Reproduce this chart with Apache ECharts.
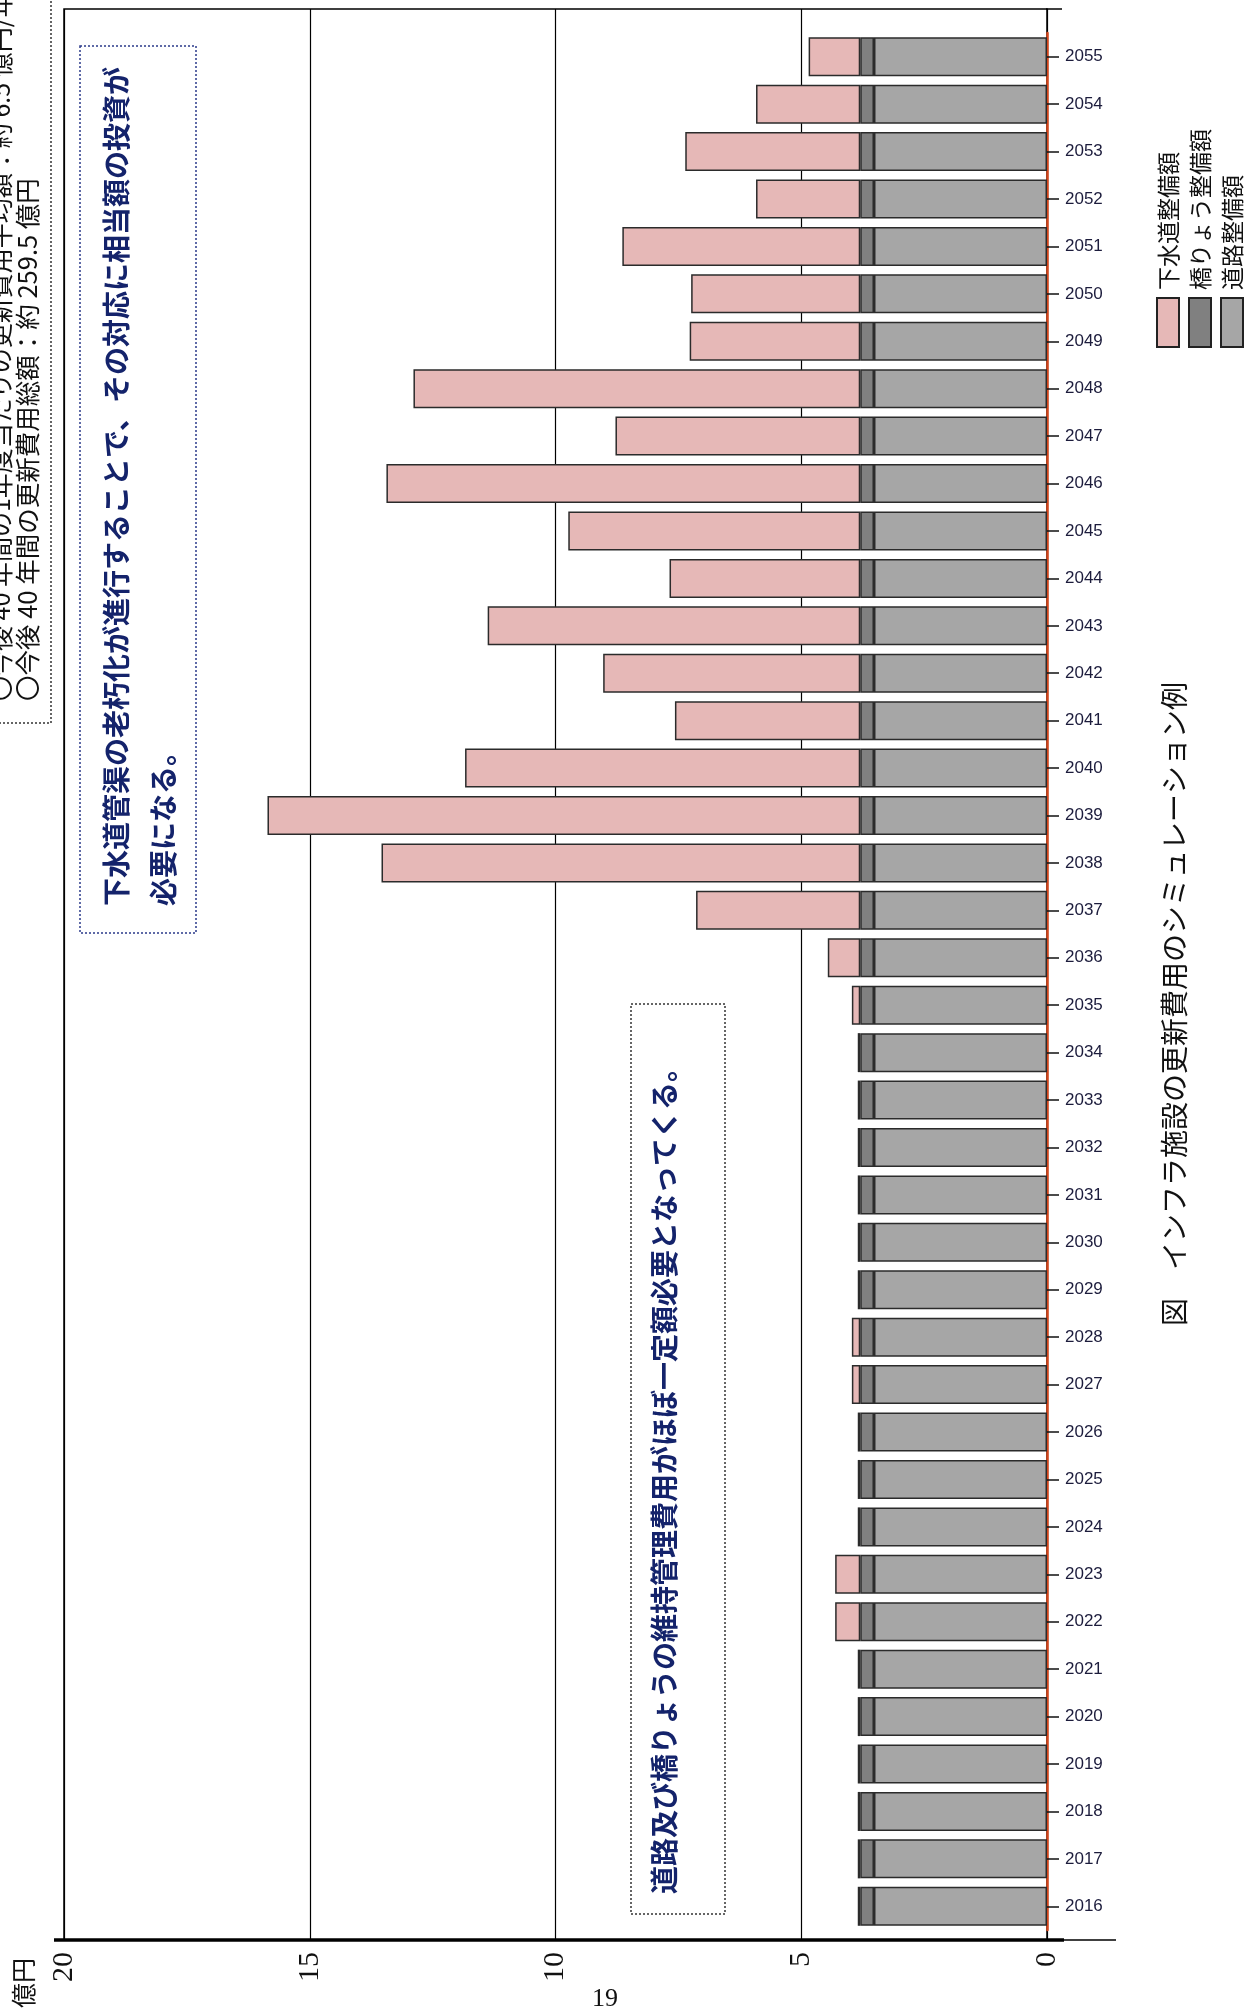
<!DOCTYPE html>
<html>
<head>
<meta charset="utf-8">
<script src="https://cdn.jsdelivr.net/npm/echarts@6/dist/echarts.min.js"></script>
<style>
html,body{margin:0;padding:0;background:#fff;}
#chart{width:1255px;height:2011px;}
</style>
</head>
<body>
<div id="chart"></div>
<script>
// ---- data ----
const years = ['2016','2017','2018','2019','2020','2021','2022','2023','2024','2025','2026','2027','2028','2029','2030','2031','2032','2033','2034','2035','2036','2037','2038','2039','2040','2041','2042','2043','2044','2045','2046','2047','2048','2049','2050','2051','2052','2053','2054','2055'];
const roadValues = [3.52,3.52,3.52,3.52,3.52,3.52,3.52,3.52,3.52,3.52,3.52,3.52,3.52,3.52,3.52,3.52,3.52,3.52,3.52,3.52,3.52,3.52,3.52,3.52,3.52,3.52,3.52,3.52,3.52,3.52,3.52,3.52,3.52,3.52,3.52,3.52,3.52,3.52,3.52,3.52];
const bridgeValues = [0.28,0.28,0.28,0.28,0.28,0.28,0.28,0.28,0.28,0.28,0.28,0.28,0.28,0.28,0.28,0.28,0.28,0.28,0.28,0.28,0.28,0.28,0.28,0.28,0.28,0.28,0.28,0.28,0.28,0.28,0.28,0.28,0.28,0.28,0.28,0.28,0.28,0.28,0.28,0.28];
const sewerValues = [0.05,0.05,0.05,0.05,0.05,0.05,0.51,0.51,0.05,0.05,0.05,0.17,0.17,0.05,0.05,0.05,0.05,0.05,0.05,0.17,0.66,3.34,9.74,12.06,8.04,3.77,5.23,7.58,3.88,5.94,9.64,4.98,9.09,3.47,3.44,4.84,2.12,3.56,2.12,1.05];
const valueTicks = [0,5,10,15,20];
const seriesNames = ['道路整備額','橋りょう整備額','下水道整備額'];
const unitLabel = '億円';
const titleText = '図　インフラ施設の更新費用のシミュレーション例';
const note1Lines = ['下水道管渠の老朽化が進行することで、その対応に相当額の投資が','必要になる。'];
const note2Text = '道路及び橋りょうの維持管理費用がほぼ一定額必要となってくる。';
const summaryLines = ['〇今後 40 年間の1年度当たりの更新費用平均額：約 6.5 億円/年','〇今後 40 年間の更新費用総額：約 259.5 億円'];
const pageNumber = '19';

const colors = ['#a6a6a6','#808080','#e6b8b7'];
const JP = '"Noto Sans CJK JP","Noto Sans CJK SC",sans-serif';
const R = Math.PI / 2;

const chart = echarts.init(document.getElementById('chart'), null, {renderer:'canvas'});

function vText(x, y, text, font, fill) {
  return {type:'text', x:x, y:y, rotation:R, z:100,
    style:{text:text, x:0, y:0, font:font, fill:fill||'#000', align:'left', verticalAlign:'middle'}};
}

const graphics = [];
// summary box (top-left, partly off page)
graphics.push({type:'rect', z:90, shape:{x:-10,y:-10,width:61,height:733},
  style:{fill:null, stroke:'#333', lineWidth:1.5, lineDash:[2,2]}});
graphics.push(vText(0, 701, summaryLines[0], '25px ' + JP, '#111'));
graphics.push(vText(27, 701, summaryLines[1], '25.5px ' + JP, '#111'));
// note box 1
graphics.push({type:'rect', z:90, shape:{x:80,y:46,width:116,height:887},
  style:{fill:'#fff', stroke:'#2b3a8a', lineWidth:1.5, lineDash:[2,2]}});
graphics.push(vText(116, 906, note1Lines[0], 'bold 28px ' + JP, '#14236b'));
graphics.push(vText(163, 906, note1Lines[1], 'bold 28px ' + JP, '#14236b'));
// note box 2
graphics.push({type:'rect', z:90, shape:{x:631,y:1004,width:94,height:910},
  style:{fill:'#fff', stroke:'#333', lineWidth:1.5, lineDash:[2,2]}});
graphics.push(vText(664, 1894, note2Text, 'bold 28px ' + JP, '#14236b'));
// title
graphics.push(vText(1174, 1326, titleText, '28px ' + JP, '#111'));
// legend
const legendCols = [1168, 1200, 1232];
const legendOrder = [2, 1, 0];
legendOrder.forEach(function(si, i) {
  graphics.push({type:'rect', z:90, shape:{x:legendCols[i]-11, y:298, width:22, height:49},
    style:{fill:colors[si], stroke:'#222', lineWidth:2}});
  graphics.push(vText(legendCols[i], 290, seriesNames[si], '23px ' + JP, '#111'));
});
// unit label
graphics.push(vText(23, 2008, unitLabel, '25px ' + JP, '#111'));
// page number
graphics.push({type:'text', x:605, y:1999, z:100,
  style:{text:pageNumber, font:'26px "Liberation Serif",serif', fill:'#111', align:'center', verticalAlign:'middle'}});
// frame extensions
graphics.push({type:'line', z:95, shape:{x1:1046, y1:9, x2:1062, y2:9}, style:{stroke:'#000', lineWidth:1.5}});
graphics.push({type:'line', z:95, shape:{x1:54, y1:1940, x2:1064, y2:1940}, style:{stroke:'#000', lineWidth:3.5}});
graphics.push({type:'line', z:95, shape:{x1:1064, y1:1940, x2:1116, y2:1940}, style:{stroke:'#000', lineWidth:1.5}});

const option = {
  backgroundColor:'#fff',
  animation:false,
  grid:[
    {left:64, top:9, width:983, height:1931, show:true, borderColor:'#000', borderWidth:1.5, backgroundColor:'transparent'},
    {left:64, top:33, width:983, height:1897}
  ],
  xAxis:[
    {gridIndex:0, type:'value', min:valueTicks[0], max:valueTicks[valueTicks.length-1], interval:5, inverse:true, position:'bottom',
      axisLine:{show:false}, axisTick:{show:false},
      splitLine:{show:true, lineStyle:{color:'#000', width:1.2}},
      axisLabel:{show:true, rotate:90, margin:12, fontSize:30, fontFamily:'"Liberation Serif",serif', color:'#111',
        formatter:function(v){return valueTicks.indexOf(v) >= 0 ? String(v) : '';}}},
    {gridIndex:1, type:'value', min:0, max:20, inverse:true, show:false}
  ],
  yAxis:[
    {gridIndex:0, type:'value', min:0, max:1, show:false},
    {gridIndex:1, type:'category', data:years, position:'right',
      axisLine:{show:true, onZero:false, lineStyle:{color:'#d2461c', width:2.5}},
      axisTick:{show:true, alignWithLabel:true, length:12, lineStyle:{color:'#111', width:1.5}},
      axisLabel:{margin:18, fontSize:17, fontFamily:'"Liberation Sans",Arial,sans-serif', color:'#1c1c3c'}}
  ],
  series:[roadValues, bridgeValues, sewerValues].map(function(d, i){
    return {name:seriesNames[i], type:'bar', stack:'total', xAxisIndex:1, yAxisIndex:1,
      data:d, barWidth:39,
      itemStyle:{color:colors[i], borderColor:'#2b2b2b', borderWidth:1.5}};
  }),
  graphic:{elements:graphics}
};
chart.setOption(option);
</script>
</body>
</html>
